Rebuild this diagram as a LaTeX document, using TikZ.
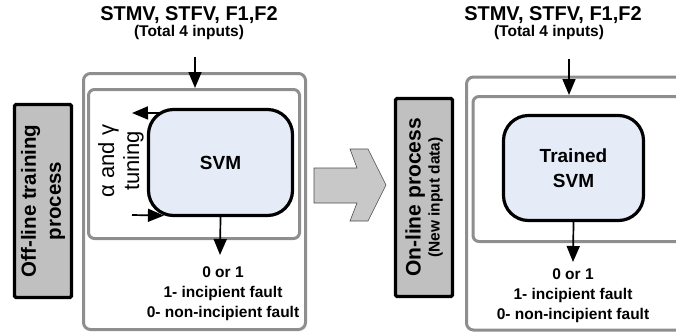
\documentclass[tikz,border=0pt]{standalone}
\usepackage{fontspec}
\setmainfont{Liberation Sans}
\usetikzlibrary{arrows.meta}
\definecolor{boxgray}{HTML}{8E8E8E}
\definecolor{svmblue}{HTML}{E6ECF7}
\definecolor{sidegray}{HTML}{C0C0C0}
\definecolor{arrowgray}{HTML}{C8C8C8}

\begin{document}
\begin{tikzpicture}[x=1pt,y=-1pt,
    graybox/.style={draw=boxgray,line width=3pt,rounded corners=7pt,minimum width=#1},
    svmbox/.style={draw=black,line width=3.2pt,fill=svmblue,rounded corners=25pt,font=\fontsize{19}{25}\selectfont\bfseries,align=center},
    sidebox/.style={draw=black,line width=3.4pt,fill=sidegray,rounded corners=1.5pt,minimum width=193pt,minimum height=57pt,rotate=90,align=center},
    flow/.style={-{Triangle[length=16pt,width=13pt]},line width=1.7pt},
    title/.style={font=\fontsize{20}{22}\selectfont\bfseries},
    subtitle/.style={font=\fontsize{15.5}{18}\selectfont\bfseries},
    result/.style={font=\fontsize{15.5}{20}\selectfont\bfseries,align=center,inner sep=0pt,anchor=north}]
    \useasboundingbox (0,0) rectangle (676,333);
    \clip (0,0) rectangle (676,333);

    % Off-line part
    \node[sidebox,font=\fontsize{20.5}{25}\selectfont\bfseries] (offline) at (43,201) {Off-line training\\process};
    \node[graybox=222pt,minimum height=256pt] (outer1) at (194.5,201.5) {};
    \node[graybox=211pt,minimum height=149pt,rounded corners=6pt] (inner1) at (194,164) {};
    \node[svmbox,minimum width=144pt,minimum height=106pt] (svm1) at (220.5,162.5) {SVM};
    \node[title] (title1) at (189,15) {STMV, STFV, F1,F2};
    \node[subtitle] (sub1) at (189,32) {(Total 4 inputs)};
    \node[rotate=90,align=center,font=\fontsize{22}{25}\selectfont] (tuning) at (121,161) {α and γ\\tuning};
    \coordinate (in1) at (195,57);
    \coordinate (tuneout) at (132,113);
    \coordinate (tunein) at (132,215);
    \coordinate (out1) at (220,255);
    \draw[flow] (in1) -- (in1 |- inner1.north);
    \draw[flow] ([shift={(14,5)}]svm1.north west) -- (tuneout);
    \draw[flow] (tunein) -- ([shift={(17,-1.5)}]svm1.south west);
    \draw[flow] (svm1.south) -- (out1);
    \node[result] (res1) at (223,266) {0 or 1\\1- incipient fault\\0- non-incipient fault};

    % Block arrow
    \draw[fill=arrowgray,draw=black!70,line width=0.6pt] (314,168) -- (357,168) -- (350,149) -- (368,149) -- (386,185)
        -- (368,221) -- (350,221) -- (357,203) -- (314,203) -- cycle;

    % On-line part
    \node[sidebox,minimum width=198pt,font=\fontsize{21}{19}\selectfont\bfseries] (online) at (424,197.5) {On-line process\\{\fontsize{15.5}{19}\selectfont (New input data)}};
    \node[graybox=235pt,minimum height=253pt] (outer2) at (584,203.5) {};
    \node[graybox=217pt,minimum height=145pt,rounded corners=6pt] (inner2) at (581.5,169) {};
    \node[svmbox,minimum width=140pt,minimum height=105pt] (svm2) at (573.5,168) {Trained\\SVM};
    \node[title] (title2) at (553,15) {STMV, STFV, F1,F2};
    \node[subtitle] (sub2) at (549,32) {(Total 4 inputs)};
    \coordinate (in2) at (569,59);
    \coordinate (out2) at (573,262);
    \draw[flow] (in2) -- (in2 |- inner2.north);
    \draw[flow] (svm2.south) -- (out2);
    \node[result] (res2) at (573,268) {0 or 1\\1- incipient fault\\0- non-incipient fault};
\end{tikzpicture}
\end{document}
